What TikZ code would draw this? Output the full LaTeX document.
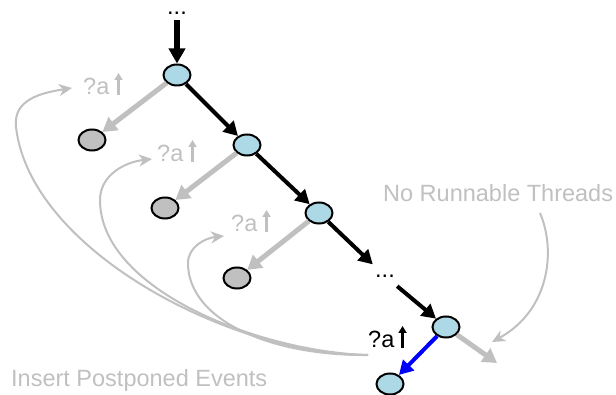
\documentclass[tikz,border=0pt]{standalone}
\usepackage{fontspec}
\setmainfont{Liberation Sans}
\usetikzlibrary{arrows.meta,shapes.geometric}
\definecolor{livefill}{RGB}{173,216,230}
\definecolor{deadfill}{RGB}{192,192,192}
\definecolor{faint}{RGB}{192,192,192}
\definecolor{chosen}{RGB}{0,0,255}

\begin{document}
\begin{tikzpicture}[x=1pt,y=-1pt,
  every node/.style={inner sep=0pt, font=\fontsize{23.5}{28}\selectfont},
  live/.style={ellipse, draw=black, line width=2pt, fill=livefill,
    minimum width=27pt, minimum height=21pt},
  dead/.style={live, fill=deadfill},
  dotsbox/.style={minimum width=24pt, minimum height=24pt},
  topedge/.style={line width=6pt, -{Triangle[length=15pt,width=16pt]}},
  mainedge/.style={line width=4pt, -{Triangle[length=14pt,width=15pt]}},
  pickedge/.style={draw=chosen, line width=4pt, -{Triangle[length=14pt,width=15pt]}},
  sideedge/.style={draw=faint, line width=5pt, -{Triangle[length=14pt,width=16pt]}},
  loopback/.style={draw=faint, line width=2pt,
    -{Stealth[length=13pt,width=12pt,inset=4pt]}},
  uptick/.style={line width=3pt, -{Triangle[length=7pt,width=8pt]}},
  note/.style={text=faint, anchor=base west}
]
\useasboundingbox (0,0) rectangle (616,395);

% states along the explored path
\node[dotsbox, minimum height=14pt] (dots1) at (177,13) {...};
\node[live] (A) at (177,75) {};
\node[live] (B) at (247,145) {};
\node[live] (C) at (319,213) {};
\node[dotsbox] (dots2) at (385,276) {...};
\node[live] (D) at (446,327) {};
\node[live] (E) at (390,384) {};

% postponed alternatives
\node[dead] (G1) at (92,140) {};
\node[dead] (G2) at (165,208) {};
\node[dead] (G3) at (237,278) {};
\coordinate (none) at (497,363);

% event labels
\node[note] (q1) at (83,95) {?a};
\node[note] (q2) at (157,162) {?a};
\node[note] (q3) at (231,232) {?a};
\node[anchor=base west] (q4) at (368,348) {?a};
\draw[uptick, draw=faint] ([xshift=9pt]q1.base east) -- ++(0,-22);
\draw[uptick, draw=faint] ([xshift=9pt]q2.base east) -- ++(0,-22);
\draw[uptick, draw=faint] ([xshift=9pt]q3.base east) -- ++(0,-22);
\draw[uptick, draw=black] ([xshift=8pt]q4.base east) -- ++(0,-22);

% captions
\node[note] (nrt) at (383,202) {No Runnable Threads};
\node[note] (ipe) at (11,387) {Insert Postponed Events};

% main path
\draw[topedge] (dots1) -- (A);
\draw[mainedge] (A) -- (B);
\draw[mainedge] (B) -- (C);
\draw[mainedge] (C) -- (dots2);
\draw[mainedge] (dots2) -- (D);
\draw[pickedge] (D) -- (E);

% side branches
\draw[sideedge] (A) -- (G1);
\draw[sideedge] (B) -- (G2);
\draw[sideedge] (C) -- (G3);
\draw[sideedge] (D) -- (none);

% caption pointer
\coordinate (nrfrom) at (540,213);
\coordinate (nrto) at (492,342);
\draw[loopback] (nrfrom) .. controls (556,250) and (550,310) .. (nrto);

% postponed events re-inserted
\coordinate (src) at (368,355);
\coordinate (t1) at (72,88);
\coordinate (t2) at (152,159);
\coordinate (t3) at (224,236);
\draw[loopback] (src) .. controls (230,355) and (30,250) .. (16,127)
  .. controls (13,100) and (40,93) .. (t1);
\draw[loopback] (src) .. controls (260,352) and (100,290) .. (100,200)
  .. controls (100,175) and (125,162) .. (t2);
\draw[loopback] (src) .. controls (270,356) and (188,320) .. (188,263)
  .. controls (188,247) and (205,238) .. (t3);
\end{tikzpicture}
\end{document}
